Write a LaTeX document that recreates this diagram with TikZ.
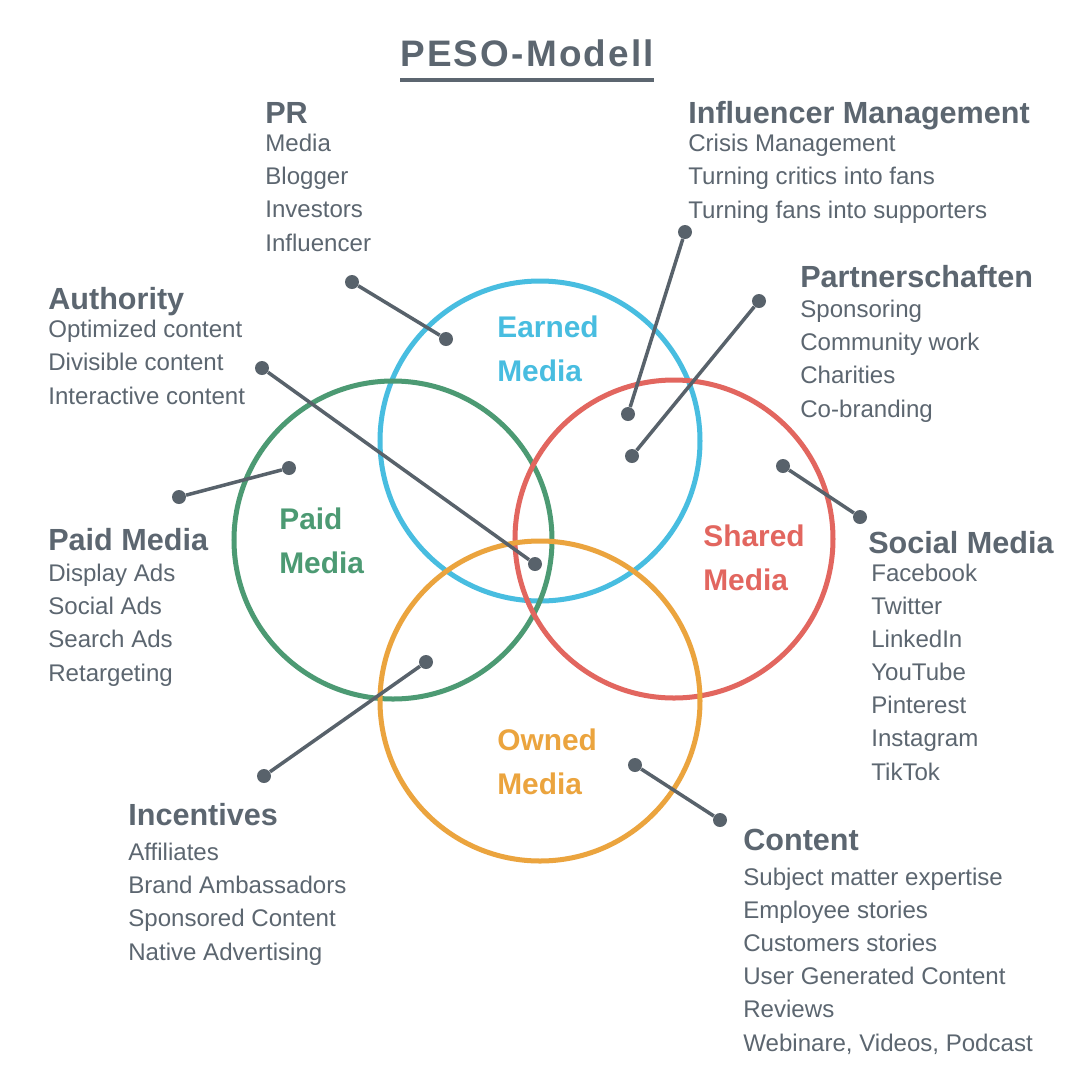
\documentclass[tikz,border=0pt]{standalone}
\usepackage{fontspec}
\setmainfont{Liberation Sans}
\usetikzlibrary{positioning}
\definecolor{Ink}{HTML}{5C6670}
\definecolor{Link}{HTML}{58626B}
\definecolor{Earned}{HTML}{48BDE0}
\definecolor{Paid}{HTML}{4C9A73}
\definecolor{Shared}{HTML}{E2665F}
\definecolor{Owned}{HTML}{EBA43E}

\tikzset{
  head/.style={font=\fontsize{17.4}{20}\selectfont\bfseries,text=Ink,anchor=base west,inner sep=0pt},
  items/.style={font=\fontsize{13.7}{18.8}\selectfont,text=Ink,anchor=base west,inner sep=0pt,align=left},
  media/.style={font=\fontsize{17}{25}\selectfont\bfseries,anchor=base west,inner sep=0pt,align=left},
  ring/.style={line width=2.85pt},
  dot/.style={circle,fill=Link,inner sep=0pt,minimum size=0.28cm},
  link/.style={draw=Link,line width=2pt},
}

\begin{document}
\begin{tikzpicture}[x=0.02cm,y=-0.02cm]
  \fill[white] (0,0) rectangle (1080,1080);
  \useasboundingbox (0,0) rectangle (1080,1080);

  % title
  \node[font=\fontsize{21}{24}\selectfont\bfseries\addfontfeatures{LetterSpace=6},text=Ink,anchor=base west,inner sep=0pt] (title) at (400,66) {PESO-Modell};
  \draw[Ink,line width=1.9pt] ([yshift=-0.28cm]title.base west) -- ([yshift=-0.28cm]title.base east);

  % the four circles
  \draw[ring,Earned] (540,441) circle[radius=160];
  \draw[ring,Paid] (393,540) circle[radius=159];
  \draw[ring,Shared] (674,539) circle[radius=159];
  \draw[ring,Owned] (540,701) circle[radius=160];

  % labels sit on the baseline of their last line
  \node[media,text=Earned] (earned) at (497,381) {Earned\\Media};
  \node[media,text=Paid] (paid) at (279,573) {Paid\\Media};
  \node[media,text=Shared] (shared) at (703,590) {Shared\\Media};
  \node[media,text=Owned] (owned) at (497,794) {Owned\\Media};

  % text blocks
  \node[head] (pr) at (265,123) {PR};
  \node[items] (pr-list) at (265,251) {Media\\Blogger\\Investors\\Influencer};

  \node[head] (infl) at (688,123) {Influencer Management};
  \node[items] (infl-list) at (688,218) {Crisis Management\\Turning critics into fans\\Turning fans into supporters};

  \node[head] (partner) at (800,287) {Partnerschaften};
  \node[items] (partner-list) at (800,417) {Sponsoring\\Community work\\Charities\\Co-branding};

  \node[head] (auth) at (48,309) {Authority};
  \node[items] (auth-list) at (48,404) {Optimized content\\Divisible content\\Interactive content};

  \node[head] (paidm) at (48,550) {Paid Media};
  \node[items] (paidm-list) at (48,681) {Display Ads\\Social Ads\\Search Ads\\Retargeting};

  \node[head] (social) at (868,553) {Social Media};
  \node[items] (social-list) at (871,780) {Facebook\\Twitter\\LinkedIn\\YouTube\\Pinterest\\Instagram\\TikTok};

  \node[head] (incent) at (128,825) {Incentives};
  \node[items] (incent-list) at (128,960) {Affiliates\\Brand Ambassadors\\Sponsored Content\\Native Advertising};

  \node[head] (content) at (743,850) {Content};
  \node[items] (content-list) at (743,1051) {Subject matter expertise\\Employee stories\\Customers stories\\User Generated Content\\Reviews\\Webinare, Videos, Podcast};

  % pointers
  \node[dot] (pr-a) at (352,282) {};
  \node[dot] (pr-b) at (446,339) {};
  \node[dot] (infl-a) at (685,232) {};
  \node[dot] (infl-b) at (628,414) {};
  \node[dot] (partner-a) at (759,301) {};
  \node[dot] (partner-b) at (632,456) {};
  \node[dot] (auth-a) at (262,368) {};
  \node[dot] (auth-b) at (535,564) {};
  \node[dot] (paidm-a) at (179,497) {};
  \node[dot] (paidm-b) at (289,468) {};
  \node[dot] (social-a) at (783,466) {};
  \node[dot] (social-b) at (860,517) {};
  \node[dot] (incent-a) at (264,776) {};
  \node[dot] (incent-b) at (426,662) {};
  \node[dot] (content-a) at (635,765) {};
  \node[dot] (content-b) at (720,820) {};

  \draw[link] (pr-a) -- (pr-b);
  \draw[link] (infl-a) -- (infl-b);
  \draw[link] (partner-a) -- (partner-b);
  \draw[link] (auth-a) -- (auth-b);
  \draw[link] (paidm-a) -- (paidm-b);
  \draw[link] (social-a) -- (social-b);
  \draw[link] (incent-a) -- (incent-b);
  \draw[link] (content-a) -- (content-b);
\end{tikzpicture}
\end{document}
